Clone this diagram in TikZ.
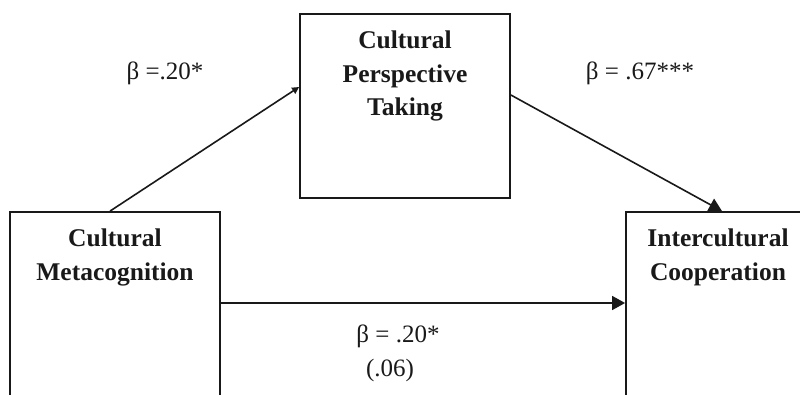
\documentclass[tikz,border=0pt]{standalone}
\usepackage{fontspec}
\setmainfont{Liberation Serif}
\usetikzlibrary{arrows.meta,calc}
\begin{document}
\begin{tikzpicture}[x=1pt,y=-1pt,
  box/.style={draw=black!90,line width=1.8pt,minimum width=210pt,inner sep=0pt},
  lbl/.style={font=\fontsize{25.5}{33.5}\selectfont\bfseries,align=center,anchor=north,inner sep=0pt,text=black!90},
  coef/.style={font=\fontsize{25}{30}\selectfont,inner sep=0pt,text=black!90},
  conn/.style={line width=1.6pt,draw=black!90},
  bigtip/.style={-{Triangle[length=13pt,width=14pt]}},
  smalltip/.style={-{Triangle[length=7pt,width=7pt]}}]
\useasboundingbox (0,0) rectangle (800,394);
\clip (0,0) rectangle (800,394);
\node[box,minimum height=184pt] (mbox) at (405,106) {};
\node[box,minimum height=210pt] (lbox) at (115,317) {};
\node[box,minimum width=184pt,minimum height=210pt] (rbox) at (718,317) {};
\node[lbl] (mtext) at ($(mbox.north)+(0,18)$) {Cultural\\Perspective\\Taking};
\node[lbl] (ltext) at ($(lbox.north)+(0,18)$) {Cultural\\Metacognition};
\node[lbl] (rtext) at ($(rbox.north)+(0,18)$) {Intercultural\\Cooperation};
\coordinate (h) at (0,303);
\draw[conn,smalltip] ([xshift=-5pt]lbox.north) -- ([yshift=19pt]mbox.west);
\draw[conn,bigtip] ([yshift=11pt]mbox.east) -- ([xshift=4pt]rbox.north);
\draw[conn,bigtip] (lbox.east |- h) -- (rbox.west |- h);
\node[coef] (b1) at (165,73) {β =.20*};
\node[coef] (b2) at (640,73) {β = .67***};
\node[coef] (b3) at (398,336) {β = .20*};
\node[coef] (b4) at (390,370) {(.06)};
\end{tikzpicture}
\end{document}
